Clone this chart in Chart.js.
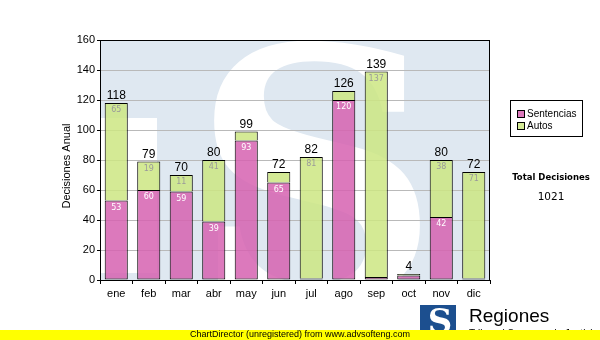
<!DOCTYPE html>
<html>
<head>
<meta charset="utf-8">
<script src="https://cdn.jsdelivr.net/npm/chart.js@4.4.1/dist/chart.umd.min.js"></script>
<style>
  html, body { margin: 0; padding: 0; background: #fff; }
  #wrap { width: 600px; height: 340px; }
</style>
</head>
<body>
<div id="wrap"><canvas id="decisionesChart" width="600" height="340"></canvas></div>
<script>
// meses del año
var meses = ["ene", "feb", "mar", "abr", "may", "jun", "jul", "ago", "sep", "oct", "nov", "dic"];
// decisiones por mes
var sentencias = [53, 60, 59, 39, 93, 65, 1, 120, 2, 3, 42, 1];
var autos = [65, 19, 11, 41, 6, 7, 81, 6, 137, 1, 38, 71];
// eje y
var yMin = 0;
var yMax = 160;
var yStep = 20;

var colSentencias = "rgba(214, 98, 176, 0.85)";
var colAutos = "rgba(205, 230, 130, 0.85)";

var totalDecisiones = 0;
for (var i = 0; i < meses.length; i++) {
  totalDecisiones += sentencias[i] + autos[i];
}

// fondo con el logo de agua, marco, etiquetas y pie de pagina
var decorado = {
  id: "decorado",
  beforeDraw: function (chart) {
    var ctx = chart.ctx;
    var a = chart.chartArea;
    ctx.save();
    ctx.fillStyle = "#fff";
    ctx.fillRect(0, 0, chart.width, chart.height);

    ctx.beginPath();
    ctx.rect(a.left, a.top, a.right - a.left, a.bottom - a.top);
    ctx.clip();
    ctx.fillStyle = "#dfe8f1";
    ctx.fillRect(a.left, a.top, a.right - a.left, a.bottom - a.top);
    ctx.fillStyle = "#fff";
    ctx.fillRect(a.left, 118, 57, 155);
    ctx.translate(316, 299);
    ctx.scale(1.19, 1.2);
    ctx.font = "bold 290px 'DejaVu Serif'";
    ctx.textAlign = "center";
    ctx.textBaseline = "alphabetic";
    ctx.fillText("S", 0, 0);
    ctx.restore();
  },
  afterDatasetsDraw: function (chart) {
    var ctx = chart.ctx;
    var a = chart.chartArea;
    ctx.save();

    // valores dentro de cada tramo
    ctx.font = "8px 'DejaVu Sans'";
    ctx.textAlign = "center";
    ctx.textBaseline = "top";
    chart.data.datasets.forEach(function (ds, d) {
      chart.getDatasetMeta(d).data.forEach(function (el, i) {
        if (el.base - el.y >= 12) {
          ctx.fillStyle = d === 0 ? "#fff" : "#9a9a9a";
          ctx.fillText(String(ds.data[i]), el.x, el.y + 3);
        }
      });
    });

    // totales encima de cada barra
    ctx.font = "12px 'Liberation Sans'";
    ctx.fillStyle = "#000";
    ctx.textBaseline = "bottom";
    var top = chart.getDatasetMeta(1).data;
    top.forEach(function (el, i) {
      ctx.fillText(String(sentencias[i] + autos[i]), el.x, el.y - 1);
    });

    // marco del area de grafico
    ctx.strokeStyle = "#000";
    ctx.lineWidth = 1;
    ctx.strokeRect(Math.round(a.left) + 0.5, Math.round(a.top) + 0.5,
      Math.round(a.right - a.left) - 1, Math.round(a.bottom - a.top));
    ctx.restore();
  },
  afterDraw: function (chart) {
    var ctx = chart.ctx;
    ctx.save();

    // titulo del eje y
    ctx.translate(67, 166);
    ctx.rotate(-Math.PI / 2);
    ctx.font = "11px 'Liberation Sans'";
    ctx.fillStyle = "#000";
    ctx.textAlign = "center";
    ctx.textBaseline = "middle";
    ctx.fillText("Decisiones Anual", 0, 0);
    ctx.setTransform(1, 0, 0, 1, 0, 0);

    // leyenda
    ctx.fillStyle = "#fff";
    ctx.fillRect(510, 100, 72, 36);
    ctx.strokeStyle = "#000";
    ctx.lineWidth = 1;
    ctx.strokeRect(510.5, 100.5, 72, 36);
    ctx.font = "10px 'Liberation Sans'";
    ctx.textAlign = "left";
    ctx.textBaseline = "middle";
    chart.data.datasets.forEach(function (ds, d) {
      var y = 110 + d * 12;
      ctx.fillStyle = ds.backgroundColor;
      ctx.fillRect(517, y, 7, 7);
      ctx.strokeRect(517.5, y + 0.5, 7, 7);
      ctx.fillStyle = "#000";
      ctx.fillText(ds.label, 527, y + 4);
    });

    // total de decisiones
    ctx.textAlign = "center";
    ctx.font = "bold 8.5px 'DejaVu Sans'";
    ctx.fillText("Total Decisiones", 551, 178);
    ctx.font = "10.5px 'DejaVu Sans'";
    ctx.fillText(String(totalDecisiones), 551, 197);

    // logo
    ctx.fillStyle = "#1c4f8f";
    ctx.fillRect(420, 305, 36, 32);
    ctx.fillStyle = "#fff";
    ctx.font = "bold 34px 'DejaVu Serif'";
    ctx.textBaseline = "alphabetic";
    ctx.fillText("S", 440, 333);
    ctx.fillStyle = "#000";
    ctx.textAlign = "left";
    ctx.font = "19px 'Liberation Sans'";
    ctx.fillText("Regiones", 469, 322);
    ctx.font = "10px 'Liberation Sans'";
    ctx.fillText("Tribunal Supremo de Justicia", 469, 337);

    // franja inferior
    ctx.fillStyle = "#ffff00";
    ctx.fillRect(0, 330, chart.width, 10);
    ctx.fillStyle = "#000";
    ctx.textAlign = "center";
    ctx.textBaseline = "middle";
    ctx.font = "9px 'Liberation Sans'";
    ctx.fillText("ChartDirector (unregistered) from www.advsofteng.com", 300, 335);
    ctx.restore();
  }
};

var canvas = document.getElementById("decisionesChart");
var decisionesChart = new Chart(canvas, {
  type: "bar",
  data: {
    labels: meses,
    datasets: [
      {
        label: "Sentencias",
        data: sentencias,
        backgroundColor: colSentencias,
        borderColor: "#000",
        borderWidth: 1,
        borderSkipped: false
      },
      {
        label: "Autos",
        data: autos,
        backgroundColor: colAutos,
        borderColor: "#000",
        borderWidth: 1,
        borderSkipped: "start"
      }
    ]
  },
  options: {
    responsive: false,
    animation: false,
    devicePixelRatio: 1,
    layout: { padding: { left: 0, top: 40, right: 110, bottom: 0 } },
    datasets: { bar: { categoryPercentage: 1, barPercentage: 0.71 } },
    plugins: {
      legend: { display: false },
      tooltip: { enabled: false }
    },
    scales: {
      x: {
        stacked: true,
        grid: { drawOnChartArea: false, tickColor: "#000", tickLength: 4 },
        border: { color: "#000", width: 1 },
        ticks: { color: "#000", font: { family: "Liberation Sans", size: 11 }, padding: 3, maxRotation: 0 },
        afterFit: function (scale) { scale.height = 60; }
      },
      y: {
        stacked: true,
        min: yMin,
        max: yMax,
        grid: { color: "#b9b9b9", tickColor: "#000", tickLength: 3 },
        border: { color: "#000", width: 1 },
        ticks: { stepSize: yStep, color: "#000", font: { family: "Liberation Sans", size: 11 }, padding: 2 },
        afterFit: function (scale) { scale.width = 100; }
      }
    }
  },
  plugins: [decorado]
});
</script>
</body>
</html>
